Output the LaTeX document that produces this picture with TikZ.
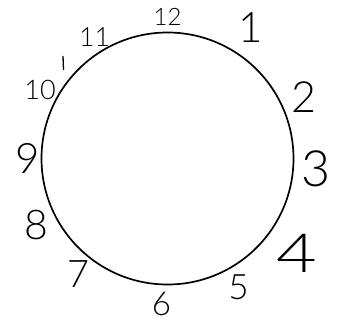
\documentclass[tikz,border=0pt]{standalone}
\usepackage{fontspec}
\newfontfamily\handfont{Lato}[UprightFont=* Light]
\tikzset{
  num/.style={inner sep=0pt, outer sep=0pt, font=\handfont\fontsize{#1}{#1}\selectfont},
  rim/.style={draw=black, line width=1.7pt},
}
\begin{document}
\begin{tikzpicture}[x=1pt,y=-1pt]
\useasboundingbox[fill=white] (0,0) rectangle (339,321);
\node[rim, circle, minimum size=252pt] (clock) at (167.5,158.5) {};
\node[num=24] (n12) at (167.5,17) {12};
\node[num=42]   (n1)  at (250.5,28) {1};
\node[num=43]   (n2)  at (304,97) {2};
\node[num=50]   (n3)  at (315.5,168.5) {3};
\node[num=54, transform shape, xscale=1.3] (n4) at (296.5,253) {4};
\node[num=35]   (n5)  at (238.5,287.5) {5};
\node[num=33]   (n6)  at (161.5,304) {6};
\node[num=38]   (n7)  at (79,274) {7};
\node[num=41]   (n8)  at (36.5,225) {8};
\node[num=42]   (n9)  at (28,158) {9};
\node[num=27]   (n10) at (40,90) {10};
\node[num=26.5] (n11) at (94.5,37.5) {11};
\draw[line width=1.3pt] (63,56) -- (63.5,70);
\end{tikzpicture}
\end{document}
